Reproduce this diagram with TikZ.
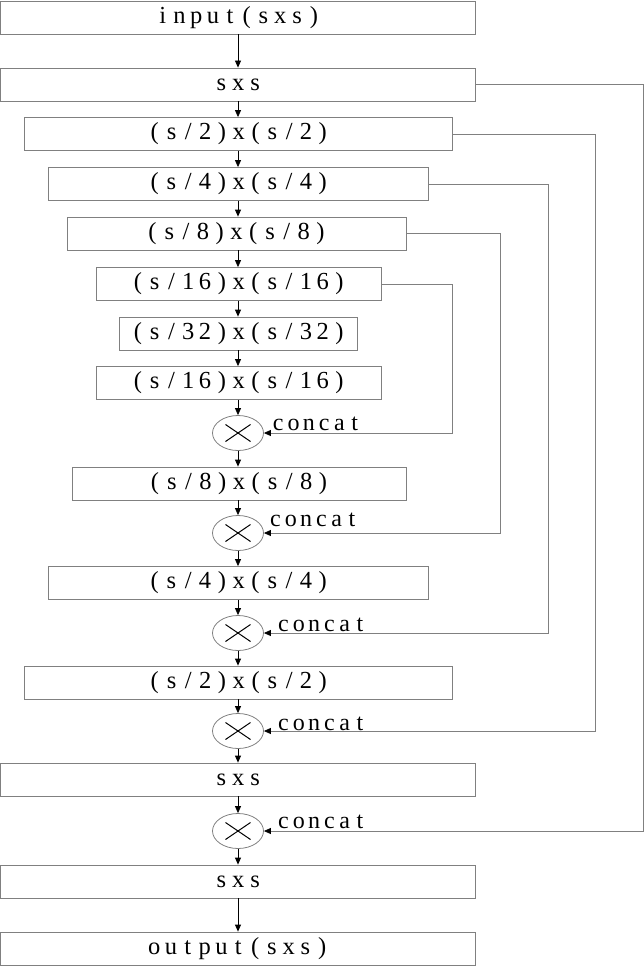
\documentclass[tikz,border=0pt]{standalone}
\usepackage{fontspec}
\setmainfont{Liberation Serif}
\usepackage{tikz}
\usetikzlibrary{shapes.geometric,arrows.meta}

% every character in a cell of the same width
\newlength\cellw
\def\mono#1{\monoloop#1\relax}
\def\monoloop#1{\ifx\relax#1\else\makebox[\cellw]{#1}\expandafter\monoloop\fi}

\tikzset{
  layer/.style={draw=gray, line width=0.8pt, rectangle, minimum height=33pt, inner sep=0pt,
    font=\fontsize{24.5}{26}\selectfont\setlength\cellw{16.8pt}},
  catnode/.style={draw=gray, line width=0.8pt, ellipse, minimum width=51pt, minimum height=35pt, inner sep=0pt,
    path picture={
      \draw[black, line width=1pt] ([shift={(-12.5,-8.5)}]path picture bounding box.center) -- ([shift={(12.5,8.5)}]path picture bounding box.center);
      \draw[black, line width=1pt] ([shift={(-12.5,8.5)}]path picture bounding box.center) -- ([shift={(12.5,-8.5)}]path picture bounding box.center);
    }},
  catlabel/.style={anchor=base west, inner sep=0pt, font=\fontsize{24}{26}\selectfont\setlength\cellw{15.3pt}},
  flow/.style={black, line width=0.8pt, -{Triangle[length=7pt,width=6pt]}},
  skipline/.style={gray, line width=0.8pt, -{Triangle[length=7pt,width=6pt,color=black]}}
}

\begin{document}
\begin{tikzpicture}[x=1pt,y=-1pt]
            \useasboundingbox (0,0) rectangle (644,966);
            % encoder
            \node[layer, minimum width=475pt] (inp) at (238.3,17.5) {\mono{input(sxs)}};
            \node[layer, minimum width=475pt] (e1) at (238.3,84.5) {\mono{sxs}};
            \node[layer, minimum width=428pt] (e2) at (238.8,134) {\mono{(s/2)x(s/2)}};
            \node[layer, minimum width=380pt] (e4) at (238.7,184) {\mono{(s/4)x(s/4)}};
            \node[layer, minimum width=339pt] (e8) at (236.5,233.5) {\mono{(s/8)x(s/8)}};
            \node[layer, minimum width=285pt] (e16) at (238.7,284) {\mono{(s/16)x(s/16)}};
            \node[layer, minimum width=238pt] (e32) at (238.7,333.5) {\mono{(s/32)x(s/32)}};
            % decoder
            \node[layer, minimum width=285pt] (d16) at (238.7,383) {\mono{(s/16)x(s/16)}};
            \node[catnode] (c16) at (238,433) {};
            \node[layer, minimum width=334pt] (d8) at (239,483.5) {\mono{(s/8)x(s/8)}};
            \node[catnode] (c8) at (238,533) {};
            \node[layer, minimum width=380pt] (d4) at (238.7,583) {\mono{(s/4)x(s/4)}};
            \node[catnode] (c4) at (238,633) {};
            \node[layer, minimum width=428pt] (d2) at (238.8,682.5) {\mono{(s/2)x(s/2)}};
            \node[catnode] (c2) at (238,731) {};
            \node[layer, minimum width=475pt] (d1) at (238.3,779.5) {\mono{sxs}};
            \node[catnode] (c1) at (238,831) {};
            \node[layer, minimum width=475pt] (d0) at (238.3,881.5) {\mono{sxs}};
            \node[layer, minimum width=475pt] (out) at (238.3,948.5) {\mono{output(sxs)}};
            % labels
            \node[catlabel] (l16) at (270.4,430.5) {\mono{concat}};
            \node[catlabel] (l8) at (267.7,526) {\mono{concat}};
            \node[catlabel] (l4) at (275.7,631) {\mono{concat}};
            \node[catlabel] (l2) at (275.7,730) {\mono{concat}};
            \node[catlabel] (l1) at (275.7,828) {\mono{concat}};
            % main path
            \draw[flow] (inp.south -| 238,0) -- (e1.north -| 238,0);
            \draw[flow] (e1.south -| 238,0) -- (e2.north -| 238,0);
            \draw[flow] (e2.south -| 238,0) -- (e4.north -| 238,0);
            \draw[flow] (e4.south -| 238,0) -- (e8.north -| 238,0);
            \draw[flow] (e8.south -| 238,0) -- (e16.north -| 238,0);
            \draw[flow] (e16.south -| 238,0) -- (e32.north -| 238,0);
            \draw[flow] (e32.south -| 238,0) -- (d16.north -| 238,0);
            \draw[flow] (d16.south -| 238,0) -- (c16.north);
            \draw[flow] (c16.south) -- (d8.north -| 238,0);
            \draw[flow] (d8.south -| 238,0) -- (c8.north);
            \draw[flow] (c8.south) -- (d4.north -| 238,0);
            \draw[flow] (d4.south -| 238,0) -- (c4.north);
            \draw[flow] (c4.south) -- (d2.north -| 238,0);
            \draw[flow] (d2.south -| 238,0) -- (c2.north);
            \draw[flow] (c2.south) -- (d1.north -| 238,0);
            \draw[flow] (d1.south -| 238,0) -- (c1.north);
            \draw[flow] (c1.south) -- (d0.north -| 238,0);
            \draw[flow] (d0.south -| 238,0) -- (out.north -| 238,0);
            % skip connections
            \draw[skipline] (e1.east) -- (643,84.5) |- (c1.east);
            \draw[skipline] (e2.east) -- (595.5,134) |- (c2.east);
            \draw[skipline] (e4.east) -- (548,184) |- (c4.east);
            \draw[skipline] (e8.east) -- (500,233.5) |- (c8.east);
            \draw[skipline] (e16.east) -- (452,284) |- (c16.east);
        \end{tikzpicture}
\end{document}
